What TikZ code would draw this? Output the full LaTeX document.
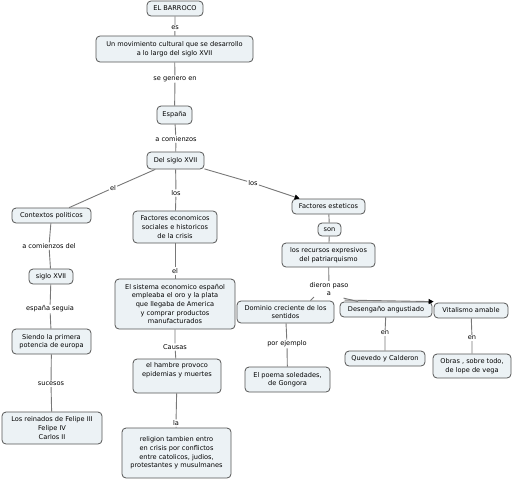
\documentclass[tikz,border=0pt]{standalone}
\usepackage{fontspec}
\setmainfont{DejaVu Sans}
\usepackage{xcolor}
\usepackage{tikz}
\usetikzlibrary{arrows.meta}

\definecolor{cmapfill}{RGB}{236,242,245}
\definecolor{cmapline}{RGB}{85,85,85}
\definecolor{linkgray}{RGB}{120,120,120}

\begin{document}
\begin{tikzpicture}[x=1pt,y=-1pt,
    concept/.style={draw=cmapline, fill=cmapfill, rounded corners=4pt, line width=0.8pt,
        align=center, inner sep=1pt, font=\fontsize{6.6}{8.6}\selectfont},
    linkword/.style={fill=white, inner sep=1pt, align=center, font=\fontsize{6.6}{8.6}\selectfont},
    link/.style={draw=linkgray, line width=0.9pt},
    linkarrow/.style={link, -{Triangle[length=5pt,width=5pt,color=black]}}]
    \useasboundingbox (0,0) rectangle (513,480);

    % concepts
    \node[concept, minimum width=56pt, minimum height=15pt] (barroco) at (175,8.5) {EL BARROCO};
    \node[concept, minimum width=157pt, minimum height=26pt] (movimiento) at (174.5,49) {Un movimiento cultural que se desarrollo\\a lo largo del siglo XVII};
    \node[concept, minimum width=35pt, minimum height=18pt] (espana) at (174.5,115) {España};
    \node[concept, minimum width=57pt, minimum height=17pt] (siglo) at (175.5,160.5) {Del siglo XVII};
    \node[concept, minimum width=79pt, minimum height=15pt] (contextos) at (51.5,215.5) {Contextos politicos};
    \node[concept, minimum width=84pt, minimum height=32pt] (factecon) at (175,227) {Factores economicos\\sociales e historicos\\de la crisis};
    \node[concept, minimum width=44pt, minimum height=15pt] (sigloxvii) at (51,276.5) {siglo XVII};
    \node[concept, minimum width=120pt, minimum height=50pt] (sistema) at (175,304) {El sistema economico español\\empleaba el oro y la plata\\que llegaba de America\\y comprar productos\\manufacturados};
    \node[concept, minimum width=79pt, minimum height=25pt] (siendo) at (51.5,341.5) {Siendo la primera\\potencia de europa};
    \node[concept, minimum width=100pt, minimum height=32pt] (reinados) at (52,428) {Los reinados de Felipe III\\Felipe IV\\Carlos II};
    \node[concept, minimum width=88pt, minimum height=34pt] (hambre) at (177,376) {el hambre provoco\\epidemias y muertes\\[4pt]};
    \node[concept, minimum width=109pt, minimum height=50pt] (religion) at (176.5,453) {religion tambien entro\\en crisis por conflictos\\entre catolicos, judios,\\protestantes y musulmanes};
    \node[concept, minimum width=73pt, minimum height=15pt] (factest) at (328.5,206.5) {Factores esteticos};
    \node[concept, minimum width=23pt, minimum height=13pt] (son) at (329.5,229.5) {son};
    \node[concept, minimum width=93pt, minimum height=24pt] (recursos) at (328.5,255) {los recursos expresivos\\del patriarquismo};
    \node[concept, minimum width=97pt, minimum height=22pt] (dominio) at (285.5,312) {Dominio creciente de los\\sentidos};
    \node[concept, minimum width=92pt, minimum height=15pt] (desengano) at (386,309.5) {Desengaño angustiado};
    \node[concept, minimum width=74pt, minimum height=15pt] (vitalismo) at (471,310.5) {Vitalismo amable};
    \node[concept, minimum width=85pt, minimum height=25pt] (poema) at (287.5,379.5) {El poema soledades,\\de Gongora};
    \node[concept, minimum width=80pt, minimum height=15pt] (quevedo) at (385,358.5) {Quevedo y Calderon};
    \node[concept, minimum width=78pt, minimum height=24pt] (obras) at (472,366) {Obras , sobre todo,\\de lope de vega};

    % linking words
    \node[linkword] (es) at (175,28) {es};
    \node[linkword] (segenero) at (175,79) {se genero en};
    \node[linkword] (acomienzos) at (176,139) {a comienzos};
    \node[linkword] (elpol) at (113,188) {el};
    \node[linkword] (loseco) at (176,193) {los};
    \node[linkword] (losest) at (253,183) {los};
    \node[linkword] (acomdel) at (49,246) {a comienzos del};
    \node[linkword] (elsis) at (175,271) {el};
    \node[linkword] (espseg) at (50,309) {españa seguia};
    \node[linkword] (causas) at (175,347) {Causas};
    \node[linkword] (sucesos) at (51,384) {sucesos};
    \node[linkword] (la) at (176,423) {la};
    \node[linkword] (dieron) at (329,289) {dieron paso\\a};
    \node[linkword] (porej) at (287,344) {por ejemplo};
    \node[linkword] (enque) at (385,333) {en};
    \node[linkword] (enobras) at (472,338) {en};

    % connectors
    \foreach \a/\b/\c in {barroco/es/movimiento, movimiento/segenero/espana, espana/acomienzos/siglo,
        siglo/elpol/contextos, siglo/loseco/factecon, contextos/acomdel/sigloxvii,
        factecon/elsis/sistema, sigloxvii/espseg/siendo, sistema/causas/hambre,
        siendo/sucesos/reinados, hambre/la/religion, dominio/porej/poema,
        desengano/enque/quevedo, vitalismo/enobras/obras, factest/son/recursos}
        \draw[link] (\a) -- (\b) -- (\c);

    \draw[link] (siglo) -- (losest);
    \draw[linkarrow] (losest) -- ([xshift=8pt]factest.north west);
    \draw[link] (recursos) -- (dieron);
    \draw[link] (dieron.south) ++(-15pt,0) -- ([xshift=25pt]dominio.north);
    \draw[link] (dieron.south east) ++(-6pt,-1pt) -- ([xshift=-28pt]desengano.north);
    \draw[linkarrow] (dieron.south east) ++(-5pt,-3pt) -- ([yshift=1pt]vitalismo.north west);
\end{tikzpicture}
\end{document}
